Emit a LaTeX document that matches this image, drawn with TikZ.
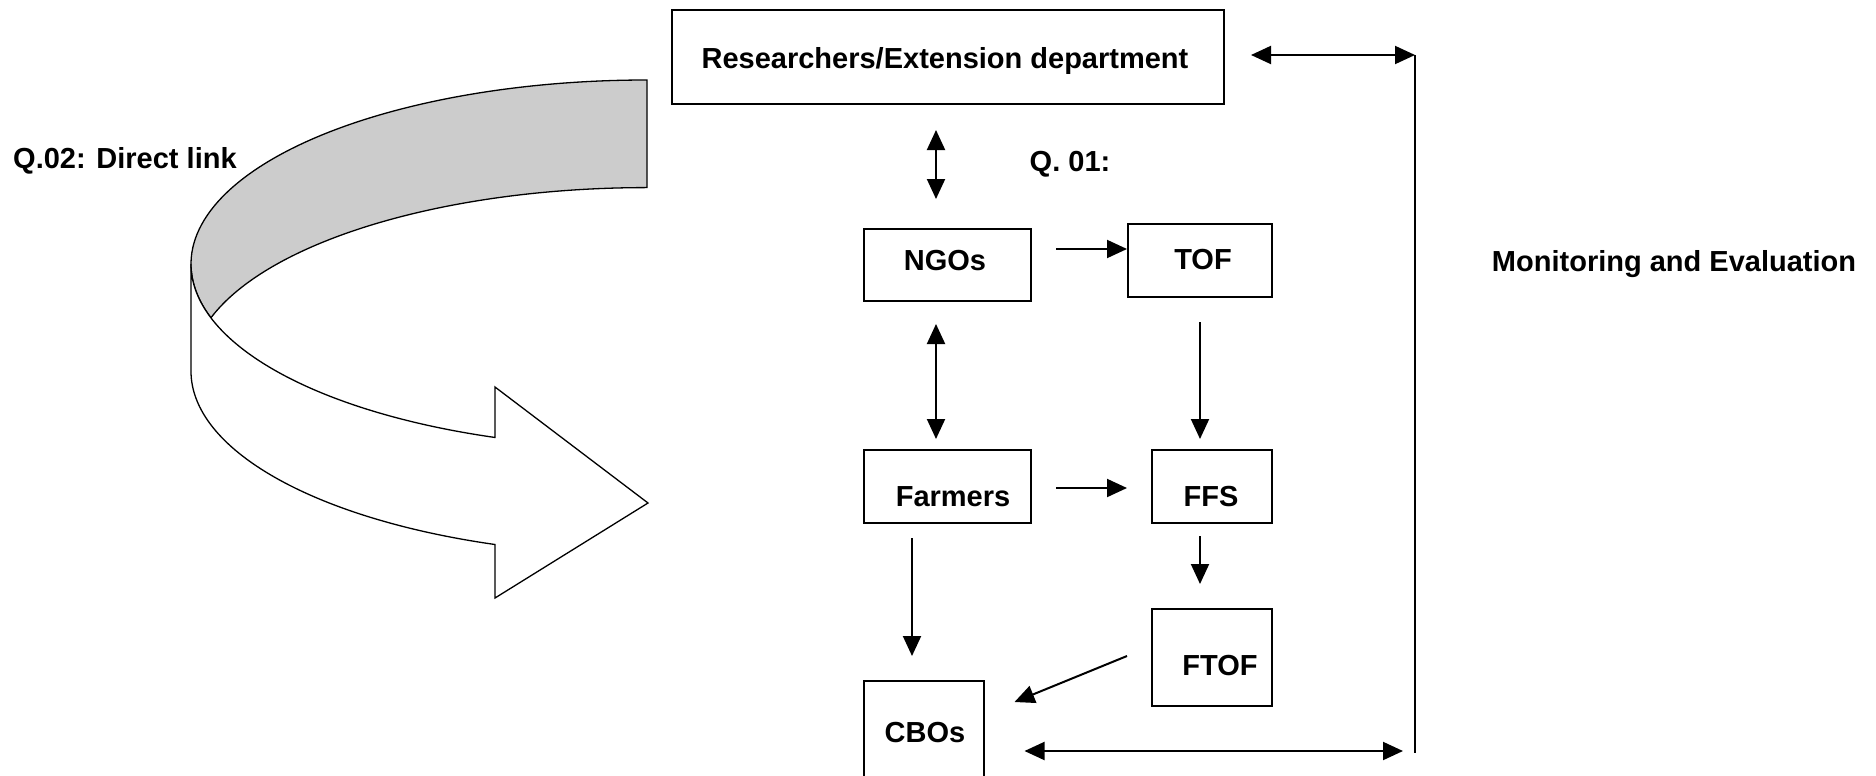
\documentclass[tikz,border=0pt]{standalone}
\usepackage{fontspec}
\setmainfont{Liberation Sans}
\usetikzlibrary{arrows.meta,calc}
\definecolor{band}{RGB}{204,204,204}
\begin{document}
\begin{tikzpicture}[x=1pt,y=-1pt,
  box/.style={draw, line width=2pt, inner sep=0pt},
  lbl/.style={font=\fontsize{29}{34}\selectfont\bfseries, anchor=base, inner sep=0pt},
  arr/.style={line width=2pt, -{Triangle[length=20pt,width=18pt]}},
  dbl/.style={line width=2pt, {Triangle[length=20pt,width=18pt]}-{Triangle[length=20pt,width=18pt]}},
  ribbon/.style={line width=1.3pt, draw=black},
]
\clip (0,0) rectangle (1876,776);
\fill[white] (0,0) rectangle (1876,776);

% curved ribbon arrow
\filldraw[ribbon, fill=band] (647,80)
  arc[start angle=90, end angle=197, x radius=456pt, y radius=184pt]
  arc[start angle=163, end angle=90, x radius=456pt, y radius=184pt] -- cycle;
\filldraw[ribbon, fill=white] (191,264)
  arc[start angle=180, end angle=250.53, x radius=456pt, y radius=184pt]
  -- (495,387) -- (648,503) -- (495,598) -- (495,544.5)
  arc[start angle=250.53, end angle=180, x radius=456pt, y radius=184pt] -- cycle;

% boxes
\node[box, minimum width=552pt, minimum height=94pt] (res) at (948,57) {};
\node[box, minimum width=167pt, minimum height=72pt] (ngos) at (947.5,265) {};
\node[box, minimum width=144pt, minimum height=73pt] (tof) at (1200,260.5) {};
\node[box, minimum width=167pt, minimum height=73pt] (farmers) at (947.5,486.5) {};
\node[box, minimum width=120pt, minimum height=73pt] (ffs) at (1212,486.5) {};
\node[box, minimum width=120pt, minimum height=97pt] (ftof) at (1212,657.5) {};
\node[box, minimum width=120pt, minimum height=118pt] (cbos) at (923.5,740) {};

% texts
\node[lbl] (tres) at (945,68) {Researchers/Extension department};
\node[lbl] (tngos) at (945,270) {NGOs};
\node[lbl] (ttof) at (1203,269) {TOF};
\node[lbl] (tfarm) at (953,506.5) {Farmers};
\node[lbl] (tffs) at (1211,506.5) {FFS};
\node[lbl] (tftof) at (1220,675.5) {FTOF};
\node[lbl] (tcbos) at (925,742) {CBOs};
\node[lbl] (q01) at (1070,171) {Q. 01:};
\node[lbl, anchor=base west] (q02) at (13,168) {Q.02: Direct link};
\node[lbl] (me) at (1674,271.5) {Monitoring and Evaluation};

% connectors
\coordinate (mtop) at (1415,55);
\coordinate (mbot) at (1415,753);
\draw[dbl] ($(res.south)+(-12,25)$) -- ($(ngos.north)+(-11.5,-29)$);
\draw[arr] ($(ngos.east)+(24,-16)$) -- ($(tof.west)+(0,-11.5)$);
\draw[arr] ($(tof.south)+(0,24)$) -- ($(ffs.north)+(-12,-10)$);
\draw[dbl] ($(ngos.south)+(-11.5,22)$) -- ($(farmers.north)+(-11.5,-10)$);
\draw[arr] ($(farmers.east)+(24,1.5)$) -- ($(ffs.west)+(-24,1.5)$);
\draw[arr] ($(ffs.south)+(-12,12)$) -- ($(ftof.north)+(-12,-24)$);
\draw[arr] ($(farmers.south)+(-35.5,14)$) -- ($(cbos.north)+(-11.5,-24)$);
\draw[arr] ($(ftof.west)+(-24,-1.5)$) -- ($(cbos.north east)+(30,22)$);
\draw[dbl] ($(res.east)+(26,-2)$) -- (mtop);
\draw[line width=2pt] (mtop) -- (mbot);
\draw[dbl] ($(cbos.east)+(40,11)$) -- ($(mbot)+(-12,-2)$);
\end{tikzpicture}
\end{document}
